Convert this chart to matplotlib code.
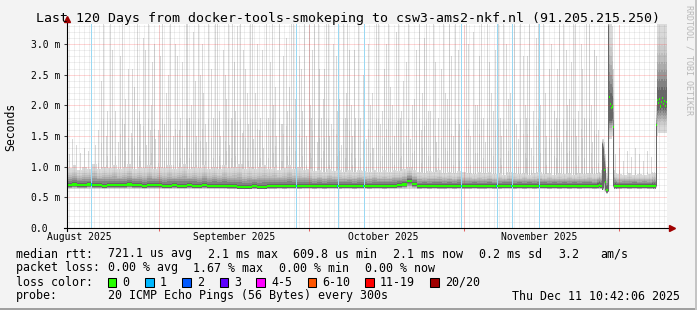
import matplotlib
matplotlib.use("Agg")
import matplotlib.pyplot as plt
from matplotlib.patches import Rectangle
import numpy as np

W, H = 697, 310
MONO = 'DejaVu Sans Mono'
nan = np.nan

# x = days from the left edge of the plot (120 days), y = rtt in ms
month_start_day = [18.3, 48.3, 79.3, 110.3]
month_label_day = [2.4, 33.4, 63.2, 94.4]
month_labels = ['August 2025', 'September 2025', 'October 2025', 'November 2025']
y_ticks = [0.0, 0.5, 1.0, 1.5, 2.0, 2.5, 3.0]
y_tick_labels = ['0.0', '0.5 m', '1.0 m', '1.5 m', '2.0 m', '2.5 m', '3.0 m']

# median rtt per day, nan where the finer samples take over
med_daily = [
    .70, .71, .70, .70, .71, .70, .70, .69, .70, .70,
    .70, .70, .71, .70, .70, .69, .70, .70, .70, .69,
    .69, .70, .69, .69, .70, .69, .69, .70, .69, .69,
    .69, .69, .68, .68, .67, .67, .67, .68, .67, .67,
    .68, .68, .69, .68, .69, .69, .68, .69, .69, .68,
    .69, .68, .69, .69, .68, .69, .69, .68, .69, .69,
    .68, .69, .69, .68, .69, .69, .70, .71, .76, .72,
    .68, .69, .68, .69, .68, .68, .69, .68, .69, .68,
    .68, .69, .68, .68, .69, .68, .68, .69, .69, .68,
    .69, .68, .69, .68, .69, .69, .68, .69, .68, .69,
    .68, .69, .68, .69, .69, .68, nan, nan, nan, nan,
    .68, .69, .68, .69, .68, .69, .68, nan, nan, nan,
]
# top of the dense smoke band per day
band_daily = [
    .98, 1.02, .95, 1.0, .97, 1.05, .96, 1.0, .98, 1.02,
    .97, 1.0, 1.04, .96, 1.0, .98, 1.03, .97, 1.0, .98,
    1.02, .97, 1.0, 1.05, .96, 1.0, .98, 1.03, .97, 1.0,
    .96, 1.02, .98, 1.0, 1.04, .97, 1.0, .96, .99, 1.02,
    .97, 1.0, .95, .98, 1.02, .96, .99, .95, .97, .93,
    .95, .92, .96, .93, .95, .91, .94, .92, .95, .93,
    .92, .95, .91, .94, .92, .95, .93, .96, 1.0, .95,
    .92, .90, .93, .91, .94, .90, .92, .89, .93, .91,
    .90, .88, .91, .89, .92, .88, .90, .87, .91, .89,
    .88, .90, .87, .89, .91, .88, .90, .87, .89, .88,
    .90, .87, .89, .88, .90, .88, nan, nan, nan, nan,
    .88, .86, .89, .87, .88, .86, .88, nan, nan, nan,
]

# route changes, one sample per 0.2 day
fine1_day = [106.0, 106.2, 106.4, 106.6, 106.8, 107.0, 107.2, 107.4, 107.6, 107.8,
             108.0, 108.2, 108.4, 108.6, 108.8, 109.0, 109.2, 109.4, 109.6, 109.8]
fine1_med = [.69, .69, .70, .69, .69, nan, nan, .95, .75, .62,
             .62, nan, 2.14, 2.02, 1.96, 1.98, 1.65, .68, .69, .68]
fine1_lo = [.63, .63, .63, .63, .63, .62, .62, .60, .58, .56,
            .56, .58, 1.45, 1.45, 1.45, 1.50, .66, .63, .63, .63]
fine1_dlo = [.655, .655, .665, .655, .655, .62, .65, .75, .62, .58,
             .58, .60, 1.75, 1.75, 1.75, 1.78, .68, .645, .655, .645]
fine1_dhi = [.735, .735, .745, .735, .735, 1.37, 1.30, 1.10, .95, .68,
             .70, 3.30, 2.25, 2.20, 2.20, 2.15, 1.65, .725, .735, .725]
fine1_hi = [.90, .90, .92, .90, .95, 1.45, 1.45, 1.40, 1.20, .90,
            1.0, 3.40, 3.40, 3.40, 3.40, 3.30, 2.60, .95, .90, .90]

fine2_day = [117.0, 117.2, 117.4, 117.6, 117.8, 118.0, 118.2, 118.4, 118.6, 118.8,
             119.0, 119.2, 119.4, 119.6, 119.8]
fine2_med = [.69, .68, .69, .68, 1.68, 2.09, 2.04, 2.10, 1.98, 2.06,
             2.12, 2.02, 2.07, 1.99, 2.05]
fine2_lo = [.63, .63, .63, .63, .66, 1.50, 1.55, 1.55, 1.55, 1.55,
            1.55, 1.55, 1.55, 1.55, 1.55]
fine2_dlo = [.655, .645, .655, .645, .68, 1.90, 1.92, 1.95, 1.92, 1.95,
             1.95, 1.92, 1.95, 1.92, 1.95]
fine2_dhi = [.735, .725, .735, .725, 1.68, 2.30, 2.25, 2.30, 2.25, 2.30,
             2.30, 2.25, 2.30, 2.25, 2.30]
fine2_hi = [.92, .90, .92, .90, 2.0, 3.4, 3.4, 3.4, 3.4, 3.4,
            3.4, 3.4, 3.4, 3.4, 3.4]

# outlier smoke spikes (day, top in ms)
spike_day = [7.2, 8.6, 9.0, 11.0, 12.2, 14.0, 15.2, 16.2, 17.0,
             19.0, 20.6, 22.0, 24.0, 25.2, 26.2, 26.6, 28.2, 30.0, 31.2,
             33.0, 34.0, 34.6, 35.6, 36.6, 38.0, 39.8, 40.6, 42.4, 43.8,
             45.2, 46.4, 48.4, 49.4, 50.4, 51.8, 53.2, 55.2, 56.4, 58.2,
             59.2, 61.8, 63.8, 66.2, 67.8, 70.4, 71.4, 73.2, 74.8, 76.4,
             78.2, 79.8, 81.2, 82.8, 84.4, 86.2, 87.8, 89.4, 91.2, 92.4,
             93.8, 95.2, 96.4, 98.4, 99.8, 101.2, 102.8, 104.4, 105.8,
             1.0, 2.6, 3.4, 5.6, 6.2, 7.8, 9.6, 10.2, 11.6, 12.8, 13.4, 14.6, 15.8, 16.8, 17.6,
             18.2, 19.8, 21.2, 22.6, 23.4, 24.8, 25.8, 27.2, 27.8, 29.2, 30.6, 31.8, 32.4, 33.6,
             35.0, 36.0, 37.2, 38.6, 39.2, 41.2, 41.8, 43.0, 44.4, 45.8, 47.0, 47.8,
             48.8, 50.0, 51.2, 52.4, 54.0, 54.8, 55.8, 57.0, 57.6, 59.8, 60.6, 61.2, 62.6,
             64.6, 65.4, 66.8, 68.6, 69.4, 70.8, 72.2, 73.8, 75.6, 77.2, 78.8,
             80.6, 82.0, 83.6, 85.2, 86.8, 88.6, 90.2, 91.8, 92.8, 94.6, 95.8, 97.4, 98.8,
             100.4, 101.8, 103.4, 105.0, 106.2,
             109.6, 110.4, 111.2, 112.0, 112.8, 113.6, 114.4, 115.2, 116.0, 116.8,
             0.4, 1.8, 4.2, 6.8, 8.0, 10.6, 11.4, 13.0, 14.4, 15.6, 16.6, 17.4,
             18.6, 19.4, 20.2, 21.6, 22.4, 23.0, 23.8, 24.4, 25.6, 27.0, 27.6, 28.8,
             29.6, 30.4, 31.6, 32.2, 32.8, 33.4, 35.2, 36.2, 37.0, 37.6, 38.4, 39.0,
             40.2, 41.0, 41.6, 42.8, 43.2, 44.0, 44.8, 45.6, 46.8, 47.4,
             48.6, 49.0, 50.2, 50.8, 51.4, 52.2, 52.8, 53.8, 54.4, 55.6, 56.0, 56.8,
             57.4, 58.6, 60.2, 61.0, 62.2, 63.0, 63.4, 64.2, 65.0, 65.8, 66.6, 67.2,
             68.2, 69.0, 69.8, 71.0, 71.8, 72.6, 73.6, 74.2, 75.2, 76.0, 76.8, 77.6, 78.4,
             80.2, 81.6, 82.4, 83.2, 84.0, 84.8, 85.6, 86.6, 87.2, 88.2, 89.0, 89.8,
             90.6, 91.6, 92.0, 93.2, 94.2, 95.6, 96.8, 97.8, 98.0, 99.2, 100.0, 100.8,
             101.6, 102.2, 103.0, 103.8, 104.8, 105.4]
spike_ms = [3.4, 3.4, 2.9, 3.4, 2.6, 3.4, 3.1, 3.4, 2.7,
            3.4, 3.4, 2.8, 3.4, 3.2, 3.4, 2.5, 3.4, 3.4, 2.9,
            3.4, 3.3, 3.4, 2.6, 3.4, 3.0, 3.4, 2.7, 3.4, 3.1,
            3.4, 2.8, 3.4, 3.4, 2.6, 3.4, 3.0, 3.4, 2.9, 3.4,
            2.5, 3.4, 3.0, 3.4, 2.7, 3.4, 3.1, 3.4, 2.6, 3.4,
            2.9, 3.4, 3.2, 3.4, 2.7, 3.4, 3.0, 3.4, 2.8, 3.4,
            3.1, 3.4, 2.6, 3.4, 2.9, 3.4, 3.0, 3.4, 2.8,
            1.45, 1.22, 1.3, 1.35, 1.6, 1.5, 1.9, 1.4, 2.1, 1.55, 2.3, 1.7, 1.35, 2.0, 1.45,
            1.6, 2.2, 1.5, 1.8, 1.3, 2.0, 1.5, 2.2, 1.4, 1.8, 1.5, 2.1, 1.35, 1.9,
            1.55, 2.2, 1.45, 1.8, 1.3, 2.0, 1.5, 1.7, 2.3, 1.4, 1.9, 1.5,
            1.8, 1.4, 2.1, 1.5, 1.9, 1.35, 2.2, 1.5, 1.8, 1.45, 2.0, 1.3, 1.7,
            2.3, 1.5, 1.9, 1.45, 2.1, 1.6, 1.9, 1.4, 2.2, 1.5, 1.8,
            1.5, 2.0, 1.4, 1.9, 1.5, 2.2, 1.45, 1.8, 1.3, 2.0, 1.5, 1.9, 1.4,
            2.1, 1.5, 1.8, 1.4, 1.6,
            1.2, 1.3, 1.1, 1.25, 1.15, 1.3, 1.2, 1.1, 1.25, 1.15,
            1.2, 1.35, 1.25, 2.4, 1.9, 2.8, 1.7, 2.6, 1.9, 2.9, 1.6, 3.0,
            2.8, 1.7, 2.5, 3.0, 1.6, 2.7, 3.4, 1.8, 2.4, 3.0, 1.7, 2.6,
            3.4, 1.9, 2.5, 3.4, 1.8, 2.7, 2.9, 1.7, 3.4, 2.2, 1.6, 2.9,
            1.8, 3.4, 2.3, 1.7, 2.8, 1.9, 3.4, 2.1, 2.6, 3.4,
            2.0, 2.9, 3.4, 1.8, 2.6, 3.4, 1.7, 2.8, 2.1, 1.8, 3.4, 2.0,
            2.9, 1.8, 3.0, 2.2, 3.4, 1.9, 2.6, 3.4, 2.0, 3.2, 1.8, 2.4,
            3.4, 2.0, 2.9, 2.2, 3.4, 1.9, 2.7, 1.8, 3.4, 2.1, 2.8, 3.4, 1.7,
            3.0, 2.0, 2.8, 1.8, 3.4, 2.2, 2.9, 1.8, 3.4, 2.1, 2.7, 1.7,
            3.4, 2.0, 2.8, 1.9, 3.4, 2.2, 3.0, 1.8, 2.6, 3.4, 2.0, 2.7,
            3.4, 1.9, 2.6, 3.4, 2.0, 2.9]

# days with packet loss (1 of 20)
loss_day = [4.8, 45.8, 54.1, 59.3, 78.8, 85.9, 88.9, 94.4]

loss_colors = ['#26ff00', '#00b8ff', '#0059ff', '#5e00ff', '#ff00ff', '#ff5500', '#ff0000', '#a00000']
loss_names = ['0', '1', '2', '3', '4-5', '6-10', '11-19', '20/20']

plt.rcParams['font.family'] = MONO
fig = plt.figure(figsize=(W / 100, H / 100), dpi=100, facecolor='#f3f3f3')
ax = fig.add_axes([67 / W, (H - 228) / H, 600 / W, 204 / H])
ax.set_facecolor('white')
ax.set_xlim(0, 120)
ax.set_ylim(0, 204 / 61.33)
for s in ax.spines.values():
    s.set_visible(False)

# smoke spikes (light outliers), 1 px wide
sd = np.array(spike_day)
sm = np.array(spike_ms)
ax.vlines(sd, 0.7, sm, color='#d8d8d8', lw=0.72, zorder=2, antialiased=False)
ax.vlines(sd, 0.7, 0.7 + (sm - 0.7) * 0.4, color='#c9c9c9', lw=0.72, zorder=2, antialiased=False)


def smoke(left, width, lo, dlo, dhi, hi, n=9):
    lo, dlo, dhi, hi = (np.asarray(v, float) for v in (lo, dlo, dhi, hi))
    ok = ~np.isnan(lo)
    for k in range(n):
        f = k / (n - 1)
        g = 0.86 - 0.46 * f ** 2
        b = lo + (dlo - lo) * f
        t = hi + (dhi - hi) * f
        ax.bar(np.asarray(left)[ok], (t - b)[ok], bottom=b[ok], width=width, align='edge',
               color=str(g), linewidth=0, antialiased=False, zorder=3)


def median(left, width, med):
    med = np.asarray(med, float)
    ok = ~np.isnan(med)
    ax.bar(np.asarray(left)[ok], 0.036, bottom=med[ok] - 0.018, width=width, align='edge',
           color='#26ff00', linewidth=0, antialiased=False, zorder=6)


days = np.arange(120)
md = np.array(med_daily)
smoke(days, 1.0, np.where(np.isnan(md), nan, 0.63), md - 0.03, md + 0.035, band_daily)
smoke(fine1_day, 0.2, fine1_lo, fine1_dlo, fine1_dhi, fine1_hi)
smoke(fine2_day, 0.2, fine2_lo, fine2_dlo, fine2_dhi, fine2_hi)

# dotted grid drawn over the smoke, like rrdtool
minor = (0.45, 0.45, 0.45, 0.22)
major = (1.0, 0.15, 0.15, 0.38)
for d in np.arange(0.3, 120, 1.0):
    ax.axvline(d, color=minor, lw=0.72, ls=(0, (1, 1)), zorder=4)
for v in np.arange(0.1, 3.35, 0.1):
    if abs(v / 0.5 - round(v / 0.5)) > 1e-6:
        ax.axhline(v, color=minor, lw=0.72, ls=(0, (1, 1)), zorder=4)
for d in month_start_day:
    ax.axvline(d, color=major, lw=0.72, ls=(0, (1, 1)), zorder=4)
for v in y_ticks[1:]:
    ax.axhline(v, color=major, lw=0.72, ls=(0, (1, 1)), zorder=4)

for d in loss_day:
    ax.axvline(d, color='#9ad8f2', lw=0.72, zorder=5)

median(days, 1.0, md)
median(fine1_day, 0.2, fine1_med)
median(fine2_day, 0.2, fine2_med)
ax.bar(loss_day, 0.036, bottom=md[np.array(loss_day).astype(int)] - 0.018, width=0.2,
       color='#00b8ff', linewidth=0, antialiased=False, zorder=7)

# axes with arrows
ax.plot([-3 / 600, 1 + 5 / 600], [0, 0], transform=ax.transAxes, color='black', lw=0.8,
        clip_on=False, zorder=8)
ax.plot([0, 0], [-3 / 204, 1 + 4 / 204], transform=ax.transAxes, color='black', lw=0.8,
        clip_on=False, zorder=8)
ax.plot([1 + 5 / 600], [0], marker='>', ms=4, color='#a00000', transform=ax.transAxes,
        clip_on=False, zorder=9)
ax.plot([0], [1 + 5 / 204], marker='^', ms=4, color='#a00000', transform=ax.transAxes,
        clip_on=False, zorder=9)

ax.set_xticks(month_start_day)
ax.set_xticklabels([])
ax.tick_params(axis='x', which='major', length=2.4, width=0.75, color='#e06060')
ax.set_xticks(month_label_day, minor=True)
ax.set_xticklabels(month_labels, minor=True, fontsize=7)
ax.tick_params(axis='x', which='minor', length=0, pad=3)
ax.set_yticks(y_ticks)
ax.set_yticklabels(y_tick_labels, fontsize=7, ha='left')
ax.tick_params(axis='y', length=2.4, width=0.75, color='#404040', pad=23.7)


def txt(x, y, s, size=8.4, **kw):
    fig.text(x / W, 1 - y / H, s, family=MONO, fontsize=size, va='center', **kw)


txt(348.5, 18.5, 'Last 120 Days from docker-tools-smokeping to csw3-ams2-nkf.nl (91.205.215.250)',
    size=9.5, ha='center')
fig.text(11 / W, 1 - 127 / H, 'Seconds', family=MONO, fontsize=8.3, rotation=90,
         ha='center', va='center')
fig.text(689 / W, 1 - 5 / H, 'RRDTOOL / TOBI OETIKER', family=MONO, fontsize=6,
         rotation=270, ha='center', va='top', color='#b8b8b8')

txt(15.5, 254, 'median rtt:')
for x, s in zip([107.6, 207.6, 293, 393, 479, 558, 600],
                ['721.1 us avg', '2.1 ms max', '609.8 us min', '2.1 ms now', '0.2 ms sd', '3.2', 'am/s']):
    txt(x, 254, s)
txt(15.5, 268, 'packet loss:')
for x, s in zip([107.6, 193.3, 279.1, 365.3],
                ['0.00 % avg', '1.67 % max', '0.00 % min', '0.00 % now']):
    txt(x, 268, s)
txt(15.5, 282, 'loss color:')
for x, c, s in zip([108, 145.3, 182.2, 219.6, 256.4, 307.6, 365.3, 430.2], loss_colors, loss_names):
    fig.add_artist(Rectangle((x / W, 1 - 286.5 / H), 8.4 / W, 8.4 / H, transform=fig.transFigure,
                             facecolor=c, edgecolor='black', lw=0.75))
    txt(x + 14.7, 282, s)
txt(15.5, 296, 'probe:')
txt(107.6, 296, '20 ICMP Echo Pings (56 Bytes) every 300s')
txt(680, 296, 'Thu Dec 11 10:42:06 2025', ha='right')

# rrdtool style frame shading
fig.add_artist(Rectangle((0, 0), 1, 2 / H, transform=fig.transFigure, color='#a0a0a0', lw=0))
fig.add_artist(Rectangle((1 - 2 / W, 0), 2 / W, 1, transform=fig.transFigure, color='#c4c4c4', lw=0))

fig.savefig('out.png', dpi=100, facecolor=fig.get_facecolor())
